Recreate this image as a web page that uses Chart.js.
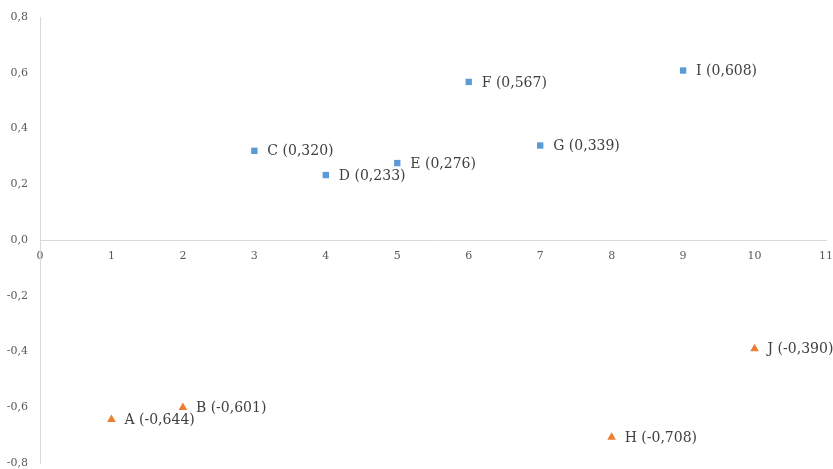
<!DOCTYPE html>
<html>
<head>
<meta charset="utf-8">
<script src="https://cdn.jsdelivr.net/npm/chart.js@4/dist/chart.umd.min.js"></script>
<style>
  html, body { margin: 0; padding: 0; background: #fff; }
  #wrap { width: 833px; height: 469px; }
</style>
</head>
<body>
<div id="wrap"><canvas id="chart"></canvas></div>
<script>
// Points above zero (blue squares) and below zero (orange triangles)
const posNames = ['C', 'D', 'E', 'F', 'G', 'I'];
const posX = [3, 4, 5, 6, 7, 9];
const posY = [0.320, 0.233, 0.276, 0.567, 0.339, 0.608];

const negNames = ['A', 'B', 'H', 'J'];
const negX = [1, 2, 8, 10];
const negY = [-0.644, -0.601, -0.708, -0.390];

const yTicks = [-0.8, -0.6, -0.4, -0.2, 0, 0.2, 0.4, 0.6, 0.8];
const xTicks = [0, 1, 2, 3, 4, 5, 6, 7, 8, 9, 10, 11];

const fmt = (v, d) => v.toFixed(d).replace('.', ',');

function toPoints(xs, ys) {
  return xs.map((x, i) => ({ x, y: ys[i] }));
}

// Draw "A (-0,644)" style labels to the right of each point
const pointLabels = {
  id: 'pointLabels',
  afterDatasetsDraw(chart) {
    const ctx = chart.ctx;
    ctx.save();
    ctx.font = '14px "DejaVu Serif"';
    ctx.fillStyle = '#404040';
    ctx.textBaseline = 'middle';
    ctx.textAlign = 'left';
    chart.data.datasets.forEach((ds, di) => {
      const meta = chart.getDatasetMeta(di);
      meta.data.forEach((pt, i) => {
        const txt = ds.names[i] + ' (' + fmt(ds.data[i].y, 3) + ')';
        ctx.fillText(txt, pt.x + 13, pt.y + 1);
      });
    });
    ctx.restore();
  }
};

new Chart(document.getElementById('chart'), {
  type: 'scatter',
  data: {
    datasets: [
      {
        names: posNames,
        data: toPoints(posX, posY),
        pointStyle: 'rect',
        pointRadius: 4.5,
        backgroundColor: '#5B9BD5',
        borderColor: '#5B9BD5',
        borderWidth: 0,
      },
      {
        names: negNames,
        data: toPoints(negX, negY),
        pointStyle: 'triangle',
        pointRadius: 5,
        backgroundColor: '#ED7D31',
        borderColor: '#ED7D31',
        borderWidth: 0,
      },
    ],
  },
  options: {
    responsive: true,
    maintainAspectRatio: false,
    animation: false,
    layout: { padding: { top: 17, right: 7, bottom: 6, left: 0 } },
    plugins: { legend: { display: false }, tooltip: { enabled: false } },
    scales: {
      x: {
        type: 'linear',
        position: { y: 0 },
        min: 0,
        max: 11,
        afterBuildTicks: (axis) => { axis.ticks = xTicks.map(v => ({ value: v })); },
        afterFit: (axis) => { axis.height = 0; axis.paddingRight = 0; axis.paddingLeft = 0; },
        grid: { display: false, drawTicks: false },
        border: { color: '#d9d9d9', width: 1 },
        ticks: {
          color: '#595959',
          font: { family: 'DejaVu Serif', size: 11 },
          padding: 10,
          callback: (v) => String(v),
        },
      },
      y: {
        min: -0.8,
        max: 0.8,
        afterBuildTicks: (axis) => { axis.ticks = yTicks.map(v => ({ value: v })); },
        afterFit: (axis) => { axis.width = 40; axis.paddingTop = 0; axis.paddingBottom = 0; },
        grid: { display: false, drawTicks: false },
        border: { color: '#d9d9d9', width: 1 },
        ticks: {
          color: '#595959',
          font: { family: 'DejaVu Serif', size: 11 },
          padding: 12,
          callback: (v) => fmt(v, 1),
        },
      },
    },
  },
  plugins: [pointLabels],
});
</script>
</body>
</html>
